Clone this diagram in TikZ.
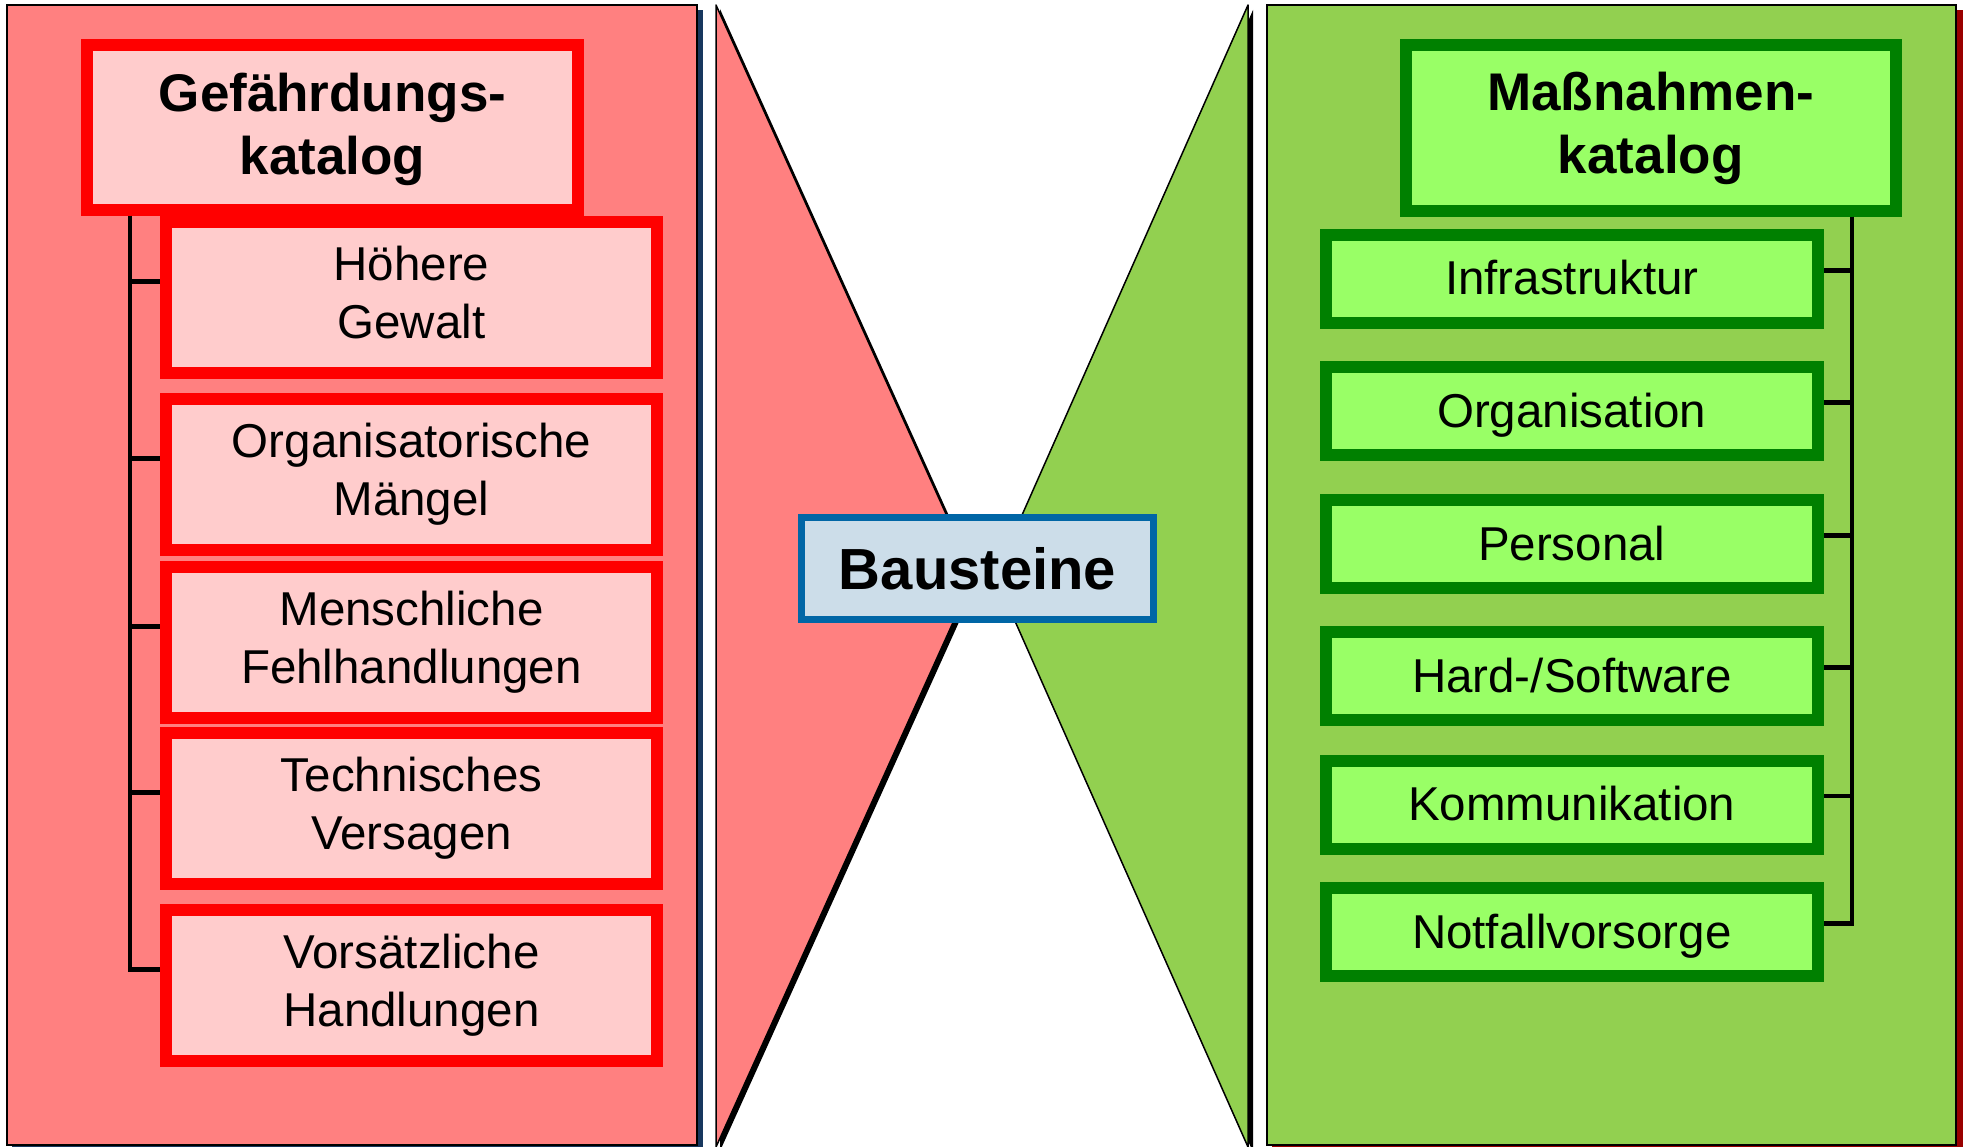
\documentclass[tikz,border=0pt]{standalone}
\usepackage{fontspec}
\setmainfont{Liberation Sans}
\definecolor{lpanel}{HTML}{FF8080}
\definecolor{redfill}{HTML}{FFCCCC}
\definecolor{boxred}{HTML}{FF0000}
\definecolor{lshadow}{HTML}{17375E}
\definecolor{gpanel}{HTML}{92D050}
\definecolor{greenfill}{HTML}{99FF66}
\definecolor{boxgreen}{HTML}{008000}
\definecolor{rshadow}{HTML}{990000}
\definecolor{bfill}{HTML}{CCDDE9}
\definecolor{bborder}{HTML}{0066A6}
\newcommand{\mytop}[1]{\rule{0pt}{#1}}
\newcommand{\mybot}[1]{\rule[-#1]{0pt}{#1}}
\begin{document}
\begin{tikzpicture}[x=1pt,y=-1pt,
  redbox/.style={draw=boxred, fill=redfill, line width=12pt, minimum width=491pt, minimum height=151pt, inner sep=0pt, align=center, font=\fontsize{47.5}{58}\selectfont},
  redtitle/.style={draw=boxred, fill=redfill, line width=12pt, minimum width=491pt, minimum height=165pt, inner sep=0pt, align=center, font=\fontsize{53}{63}\selectfont\bfseries},
  greenbox/.style={draw=boxgreen, fill=greenfill, line width=12pt, minimum width=491.5pt, minimum height=88pt, inner sep=0pt, align=center, text height=34pt, text depth=2pt, font=\fontsize{47.5}{58}\selectfont},
  greentitle/.style={draw=boxgreen, fill=greenfill, line width=12pt, minimum width=490.5pt, minimum height=166pt, inner sep=0pt, align=center, font=\fontsize{53}{63}\selectfont\bfseries},
  centerbox/.style={draw=bborder, fill=bfill, line width=7pt, minimum width=352pt, minimum height=102.4pt, inner sep=0pt, font=\fontsize{58}{70}\selectfont\bfseries},
  conn/.style={draw=black, line width=4.5pt},
  panelline/.style={draw=black, line width=2pt},
  triline/.style={draw=black, line width=1.5pt, line join=round}]
\useasboundingbox (0,0) rectangle (1969,1147);
\fill[white] (0,0) rectangle (1969,1147);
% left panel
\fill[lshadow] (12,10) rectangle (703,1152);
\filldraw[fill=lpanel, panelline] (7,5) rectangle (697,1145);
% right panel
\fill[rshadow] (1272,10) rectangle (1963,1152);
\filldraw[fill=gpanel, panelline] (1267,5) rectangle (1956,1145);
% red triangle
\fill[black, shift={(4,4)}] (716,5) -- (974,576) -- (716,1147) -- cycle;
\filldraw[fill=lpanel, triline] (716,5) -- (974,576) -- (716,1147) -- cycle;
% green triangle
\fill[black, shift={(5,5)}] (1248,5) -- (995,576) -- (1248,1147) -- cycle;
\filldraw[fill=gpanel, triline] (1248,5) -- (995,576) -- (1248,1147) -- cycle;
% left catalogue
\node[redtitle] (gk) at (332.5,127.5) {\mytop{44pt}Gefährdungs-\\katalog\mybot{12pt}};
\node[redbox] (h) at (411.5,297.5) {\strut Höhere\\Gewalt\strut};
\node[redbox] (o) at (411.5,474.5) {\strut Organisatorische\\Mängel\strut};
\node[redbox] (m) at (411.5,642.5) {\strut Menschliche\\Fehlhandlungen\strut};
\node[redbox] (t) at (411.5,808.5) {\strut Technisches\\Versagen\strut};
\node[redbox] (v) at (411.5,985.5) {\strut Vorsätzliche\\Handlungen\strut};
\coordinate (lt) at ([xshift=49pt]gk.south west);
\foreach \n in {h,o,m,t,v} {
  \draw[conn] (lt) |- ([yshift=16pt]\n.west);
}
% right catalogue
\node[greentitle] (mk) at (1650.75,128) {\mytop{44pt}Maßnahmen-\\katalog\mybot{15pt}};
\node[greenbox] (i) at (1571.75,279) {Infrastruktur};
\node[greenbox] (og) at (1571.75,411) {Organisation};
\node[greenbox] (p) at (1571.75,544) {Personal};
\node[greenbox] (hs) at (1571.75,676) {Hard-/Software};
\node[greenbox] (k) at (1571.75,804.5) {Kommunikation};
\node[greenbox] (n) at (1571.75,932) {Notfallvorsorge};
\coordinate (rt) at ([xshift=-50pt]mk.south east);
\foreach \n in {i,og,p,hs,k,n} {
  \draw[conn] (rt) |- ([yshift=8.5pt]\n.east);
}
% centre
\node[centerbox] (b) at (977.5,568.3) {Bausteine};
\end{tikzpicture}
\end{document}
